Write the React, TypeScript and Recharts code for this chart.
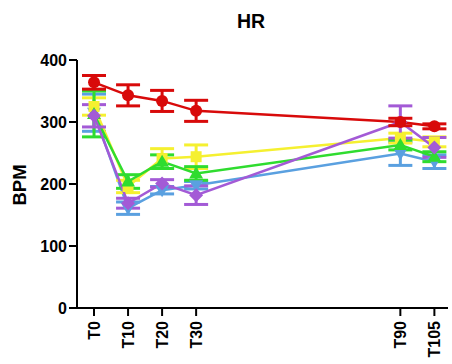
import React from 'react';
import { LineChart, Line, XAxis, YAxis, ErrorBar } from 'recharts';

const timePoints = [0, 10, 20, 30, 90, 100];
const timeLabels = ['T0', 'T10', 'T20', 'T30', 'T90', 'T105'];
const yTicks = [0, 100, 200, 300, 400];

const redMean = [364, 343, 334, 318, 300, 293];
const redErr = [11, 17, 17, 17, 6, 4];
const yellowMean = [325, 196, 241, 244, 274, 268];
const yellowErr = [14, 10, 16, 19, 8, 8];
const greenMean = [313, 204, 236, 217, 263, 244];
const greenErr = [37, 11, 11, 11, 8, 8];
const blueMean = [315, 161, 190, 198, 249, 236];
const blueErr = [30, 10, 6, 6, 19, 11];
const purpleMean = [310, 169, 201, 182, 300, 259];
const purpleErr = [18, 8, 6, 15, 26, 16];

const series = [
  { key: 'blue', mean: blueMean, err: blueErr, color: '#5aa0e0', shape: 'triDown' },
  { key: 'yellow', mean: yellowMean, err: yellowErr, color: '#f5f030', shape: 'square' },
  { key: 'green', mean: greenMean, err: greenErr, color: '#2fdc2f', shape: 'triUp' },
  { key: 'purple', mean: purpleMean, err: purpleErr, color: '#a35ad6', shape: 'diamond' },
  { key: 'red', mean: redMean, err: redErr, color: '#d80a0a', shape: 'circle' },
];

const data = timePoints.map((t, i) => {
  const row: any = { t };
  series.forEach((s) => {
    row[s.key] = s.mean[i];
    row[s.key + 'Err'] = s.err[i];
  });
  return row;
});

const FONT = 'Liberation Sans, Arial, sans-serif';

const makeDot = (shape: string, color: string) => (props: any) => {
  const { cx, cy, index } = props;
  if (cx == null || cy == null) return <g key={index} />;
  const r = 6;
  if (shape === 'circle') return <circle key={index} cx={cx} cy={cy} r={r} fill={color} />;
  if (shape === 'square') return <rect key={index} x={cx - 5.5} y={cy - 5.5} width={11} height={11} fill={color} />;
  if (shape === 'triUp')
    return <polygon key={index} points={`${cx},${cy - 7} ${cx - 7},${cy + 5} ${cx + 7},${cy + 5}`} fill={color} />;
  if (shape === 'triDown')
    return <polygon key={index} points={`${cx},${cy + 7} ${cx - 7},${cy - 5} ${cx + 7},${cy - 5}`} fill={color} />;
  return <polygon key={index} points={`${cx},${cy - 7} ${cx + 7},${cy} ${cx},${cy + 7} ${cx - 7},${cy}`} fill={color} />;
};

const XTick = (props: any) => {
  const { x, y, payload } = props;
  const idx = timePoints.indexOf(payload.value);
  const label = idx >= 0 ? timeLabels[idx] : '';
  return (
    <text
      x={x}
      y={y + 3}
      transform={`rotate(-90, ${x}, ${y + 3})`}
      textAnchor="end"
      dominantBaseline="central"
      fontFamily={FONT}
      fontWeight="bold"
      fontSize={16}
      fill="#000"
    >
      {label}
    </text>
  );
};

export default function App() {
  return (
    <div style={{ position: 'absolute', left: 0, top: 0, width: 452, height: 364, background: '#fff' }}>
      <div
        style={{
          position: 'absolute',
          left: 151,
          width: 200,
          top: 10,
          textAlign: 'center',
          fontFamily: FONT,
          fontWeight: 'bold',
          fontSize: 19.5,
          lineHeight: '22px',
        }}
      >
        HR
      </div>
      <div
        style={{
          position: 'absolute',
          left: 20,
          top: 185,
          transform: 'translate(-50%, -50%) rotate(-90deg)',
          fontFamily: FONT,
          fontWeight: 'bold',
          fontSize: 18.5,
          whiteSpace: 'nowrap',
        }}
      >
        BPM
      </div>
      <LineChart
        width={452}
        height={364}
        data={data}
        margin={{ top: 60, right: 4, bottom: 0, left: 0 }}
        style={{ position: 'absolute', left: 0, top: 0 }}
      >
        <XAxis
          dataKey="t"
          type="number"
          domain={[-5, 104]}
          ticks={timePoints}
          tick={<XTick />}
          interval={0}
          height={56}
          axisLine={{ stroke: '#000', strokeWidth: 2 }}
          tickLine={{ stroke: '#000', strokeWidth: 2 }}
          tickSize={8}
        />
        <YAxis
          type="number"
          domain={[0, 400]}
          ticks={yTicks}
          width={77}
          axisLine={{ stroke: '#000', strokeWidth: 2 }}
          tickLine={{ stroke: '#000', strokeWidth: 2 }}
          tickSize={8}
          tick={{ fill: '#000', fontSize: 16, fontWeight: 'bold', fontFamily: FONT }}
        />
        {series.map((s) => (
          <Line
            key={s.key}
            dataKey={s.key}
            stroke={s.color}
            strokeWidth={2.5}
            dot={makeDot(s.shape, s.color)}
            activeDot={false}
            isAnimationActive={false}
          >
            <ErrorBar dataKey={s.key + 'Err'} width={12} stroke={s.color} strokeWidth={3} direction="y" />
          </Line>
        ))}
      </LineChart>
    </div>
  );
}
